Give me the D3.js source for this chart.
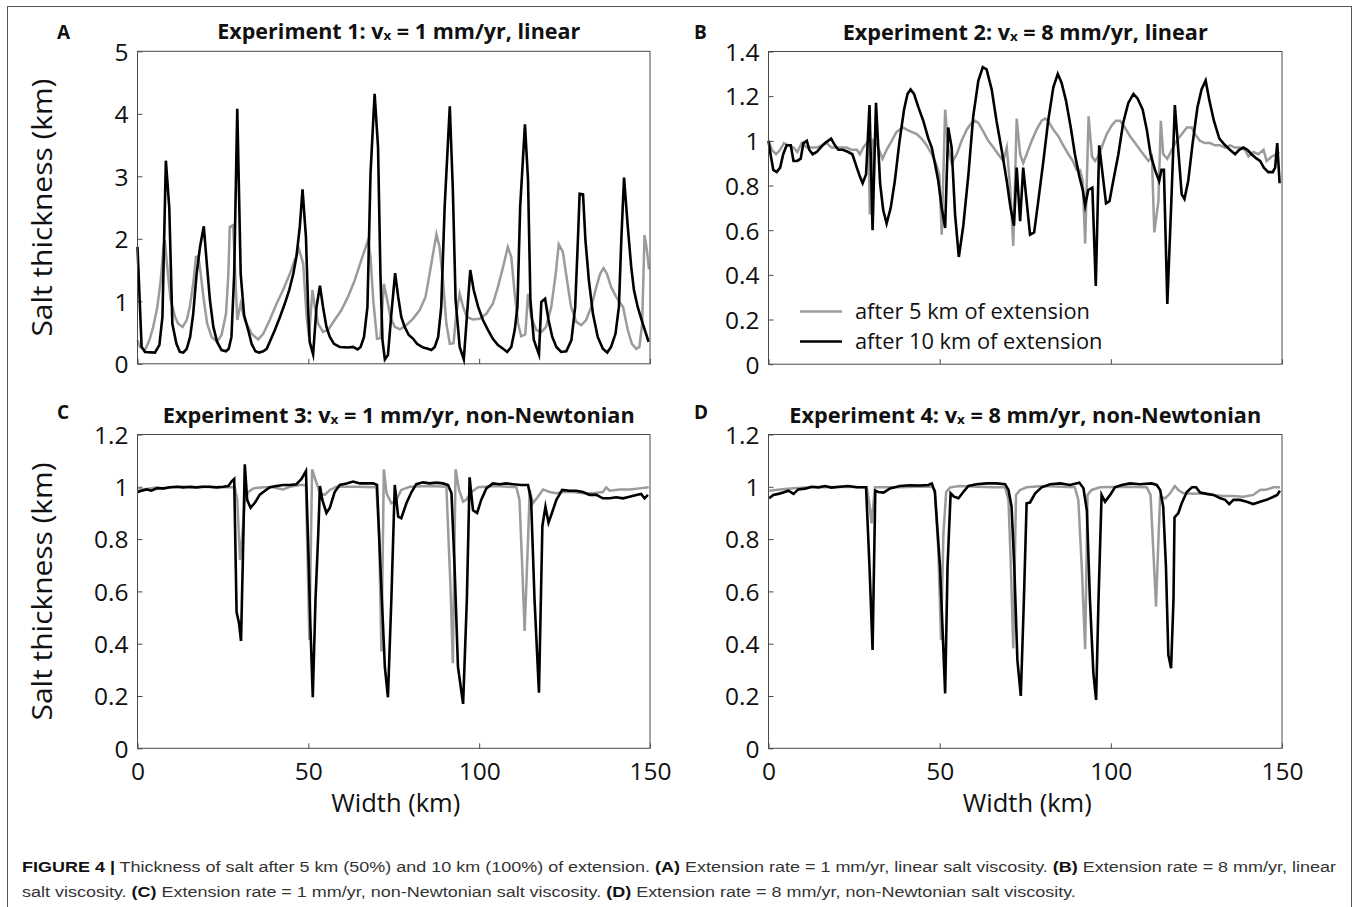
<!DOCTYPE html>
<html><head><meta charset="utf-8">
<script src="https://cdn.jsdelivr.net/npm/d3@7/dist/d3.min.js"></script>
<style>body{margin:0;background:#fff}svg{display:block}</style>
</head><body>
<svg id="fig" width="1357" height="907"></svg>
<script>
// ---------------- DATA ----------------
const xTickValues = [0, 50, 100, 150];
const yTicksLinearSlow = [0, 1, 2, 3, 4, 5];
const yTicksLinearFast = [0, 0.2, 0.4, 0.6, 0.8, 1, 1.2, 1.4];
const yTicksNonNewtonian = [0, 0.2, 0.4, 0.6, 0.8, 1, 1.2];
const panelLetters = ["A", "B", "C", "D"];
const titleExperiment = ["1", "2", "3", "4"];
const titleRate = ["1", "8", "1", "8"];
const titleRheology = ["linear", "linear", "non-Newtonian", "non-Newtonian"];
const seriesNames = ["after 5 km of extension", "after 10 km of extension"];
const xAxisLabel = "Width (km)";
const yAxisLabel = "Salt thickness (km)";

// Experiment 1 (width km, thickness km)
const exp1After5 = [[0,0.38],[0.7,0.27],[2.2,0.22],[3.5,0.38],[4.6,0.59],[5.8,0.91],[6.8,1.34],[7.6,1.87],[8.0,1.98],[8.7,1.55],[9.7,1.02],[11.0,0.75],[11.9,0.64],[13.2,0.59],[14.4,0.7],[15.3,0.91],[16.3,1.28],[17.1,1.71],[17.8,1.72],[18.5,1.44],[19.4,1.02],[20.4,0.64],[21.7,0.43],[23.3,0.35],[24.6,0.46],[25.9,0.8],[26.6,1.44],[27.0,2.19],[28.0,2.22],[28.6,1.44],[29.2,0.7],[30.2,0.96],[31.4,0.7],[33.4,0.48],[35.3,0.39],[36.8,0.48],[38.7,0.7],[40.7,0.96],[42.6,1.18],[44.6,1.44],[46.0,1.66],[47.3,1.83],[48.5,1.6],[49.5,0.75],[50.2,0.43],[51.2,1.18],[51.9,0.91],[52.9,0.64],[54.3,0.51],[55.8,0.54],[57.7,0.7],[59.7,0.86],[61.6,1.07],[63.6,1.34],[65.5,1.66],[66.5,1.82],[67.5,1.98],[68.2,1.71],[69.0,1.02],[70.1,0.4],[71.1,0.41],[72.1,1.28],[73.1,1.02],[74.0,0.75],[75.3,0.59],[76.8,0.55],[78.7,0.62],[80.6,0.72],[82.6,0.86],[84.3,1.07],[85.5,1.44],[86.5,1.76],[87.5,2.07],[88.4,1.87],[89.4,1.34],[90.4,0.64],[91.4,0.32],[92.5,0.33],[93.3,0.8],[94.3,1.12],[95.3,0.91],[96.4,0.75],[98.2,0.71],[100.1,0.72],[102.1,0.8],[104.0,0.96],[105.5,1.23],[107.0,1.55],[108.4,1.87],[109.4,1.71],[110.4,1.12],[111.4,0.64],[112.3,0.44],[113.5,0.47],[114.3,1.12],[115.2,0.75],[116.7,0.54],[118.2,0.51],[119.6,0.59],[121.1,0.91],[122.4,1.44],[123.3,1.91],[124.5,1.79],[125.7,1.34],[126.9,0.91],[128.4,0.67],[129.9,0.62],[131.3,0.7],[132.8,0.91],[134.3,1.23],[135.4,1.44],[136.4,1.53],[137.4,1.44],[138.6,1.23],[140.1,1.07],[142.1,0.91],[143.5,0.54],[144.7,0.32],[146.0,0.24],[146.9,0.27],[147.7,0.64],[148.4,2.06],[149.1,1.82],[149.7,1.51]];
const exp1After10 = [[0,1.87],[1.2,0.27],[2.2,0.19],[5.1,0.18],[6.4,0.3],[7.3,0.75],[8.3,3.25],[9.3,2.5],[10.2,0.64],[11.4,0.32],[12.4,0.19],[13.4,0.18],[14.4,0.24],[15.4,0.43],[16.3,0.8],[17.3,1.44],[18.3,1.87],[19.4,2.2],[20.2,1.66],[21.2,1.02],[22.2,0.59],[23.3,0.35],[24.6,0.22],[25.9,0.2],[26.7,0.24],[27.5,0.43],[28.3,1.44],[29.2,4.08],[30.2,1.44],[31.2,0.78],[32.4,0.54],[33.4,0.32],[34.5,0.2],[35.6,0.18],[36.8,0.2],[37.8,0.24],[38.7,0.35],[40.2,0.54],[41.7,0.75],[43.1,0.96],[44.4,1.18],[45.6,1.44],[46.5,1.71],[47.5,2.19],[48.3,2.79],[49.3,2.03],[50,0.8],[50.4,0.35],[51.4,0.15],[52.4,0.91],[53.4,1.25],[54.3,0.91],[55.3,0.59],[56.3,0.43],[57.5,0.32],[59.2,0.27],[61.6,0.26],[63.1,0.27],[64.4,0.23],[65.3,0.27],[66.3,0.43],[67.3,0.91],[68.2,3.04],[69.4,4.32],[70.4,3.47],[71.1,1.44],[71.7,0.38],[72.4,0.07],[73.3,0.14],[74.3,0.8],[75.4,1.45],[76.3,1.07],[77.2,0.75],[78.2,0.59],[79.4,0.46],[80.7,0.4],[81.8,0.32],[83.6,0.26],[85,0.24],[86,0.22],[87,0.27],[88,0.43],[88.9,0.91],[89.9,2.51],[91.4,4.12],[92.3,2.78],[93.1,1.02],[94.3,0.27],[95.5,0.07],[96.4,0.75],[97.4,1.5],[98.4,1.18],[99.7,0.91],[101.1,0.7],[102.6,0.54],[104,0.4],[105.5,0.3],[107,0.24],[108.2,0.19],[109.4,0.27],[110.4,0.54],[111.2,0.91],[112,2.51],[113.4,3.83],[114.3,2.94],[115,1.02],[116,0.38],[117.5,0.15],[118.2,0.99],[119.3,1.04],[120.3,0.7],[121.4,0.43],[122.6,0.27],[124,0.19],[125.5,0.2],[127,0.38],[128.1,0.91],[128.9,1.98],[129.4,2.72],[130.4,2.71],[131.1,1.98],[132.1,1.34],[133.3,0.8],[134.7,0.43],[136.2,0.24],[137.5,0.18],[138.6,0.27],[139.9,0.48],[140.9,0.91],[141.6,1.98],[142.4,2.98],[143.5,2.19],[144.5,1.55],[145.3,1.18],[146.4,0.91],[147.9,0.64],[149.6,0.35]];

// Experiment 2
const exp2After5 = [[0,1.0],[1.0,0.96],[2.2,0.94],[3.4,0.96],[4.5,0.99],[5.8,0.98],[7.3,0.97],[8.4,0.95],[9.7,0.99],[11.2,0.97],[12.6,0.97],[14.1,0.97],[15.5,0.98],[17.0,0.99],[18.4,0.97],[19.9,0.97],[21.4,0.97],[22.8,0.97],[24.3,0.96],[25.8,0.96],[26.7,0.94],[27.7,0.97],[28.7,0.99],[29.2,1.0],[29.6,0.67],[30.6,1.0],[31.8,0.98],[33.3,0.92],[34.5,0.96],[36.0,1.0],[37.4,1.04],[39.2,1.06],[40.4,1.05],[41.8,1.04],[43.3,1.03],[44.7,1.01],[46.2,0.98],[47.7,0.94],[48.9,0.9],[49.9,0.85],[50.6,0.58],[51.6,1.14],[52.5,0.97],[53.5,0.9],[55.0,0.94],[56.4,1.0],[57.9,1.05],[59.3,1.08],[60.3,1.09],[61.3,1.08],[62.8,1.04],[64.2,1.0],[65.7,0.97],[67.1,0.94],[68.6,0.91],[69.6,0.97],[70.6,0.79],[71.5,0.53],[72.5,1.1],[73.5,0.94],[74.4,0.9],[75.4,0.94],[76.9,1.0],[78.3,1.05],[79.8,1.09],[80.8,1.1],[81.7,1.09],[83.2,1.05],[84.7,1.02],[86.1,0.98],[87.6,0.94],[88.9,0.91],[90.0,0.87],[91.0,0.87],[91.8,0.82],[92.5,0.54],[93.5,1.11],[94.5,0.93],[95.4,0.91],[96.3,0.93],[97.3,0.97],[98.8,1.03],[100.3,1.07],[101.5,1.09],[102.7,1.09],[104.1,1.06],[105.6,1.02],[107.1,0.99],[108.5,0.96],[110.0,0.93],[111.0,0.91],[112.0,0.93],[112.7,0.59],[113.9,0.73],[114.6,1.09],[115.3,0.94],[116.5,0.92],[117.8,0.96],[119.2,1.0],[120.7,1.03],[122.2,1.06],[123.6,1.06],[124.6,1.03],[126.0,1.0],[127.5,0.99],[129.0,0.99],[130.4,0.98],[131.9,0.98],[133.4,0.97],[134.8,0.98],[136.3,0.97],[137.7,0.97],[139.2,0.96],[140.2,0.93],[141.6,0.95],[143.1,0.94],[144.6,0.96],[145.5,0.91],[147.0,0.93],[148.3,0.94],[149.2,0.95]];
const exp2After10 = [[0,1.0],[0.6,0.94],[1.4,0.87],[2.4,0.86],[3.4,0.88],[4.3,0.94],[5.3,0.98],[6.5,0.98],[7.3,0.91],[8.4,0.91],[9.4,0.92],[10.2,0.99],[11.2,1.0],[11.9,0.96],[12.9,0.94],[14.1,0.95],[15.2,0.97],[16.5,0.99],[18.3,1.01],[19.4,0.98],[20.4,0.96],[21.7,0.96],[23.3,0.95],[24.5,0.94],[25.8,0.88],[26.7,0.84],[27.5,0.81],[28.5,0.85],[29.5,1.16],[30.4,0.6],[31.4,1.17],[32.6,0.81],[33.5,0.69],[34.5,0.63],[35.7,0.7],[36.9,0.82],[38.2,0.99],[39.6,1.14],[40.6,1.21],[41.5,1.23],[42.5,1.21],[43.8,1.15],[45.2,1.09],[46.7,1.01],[47.7,0.97],[48.6,0.9],[49.6,0.82],[50.6,0.7],[51.6,0.61],[52.5,1.06],[53.5,0.97],[54.5,0.67],[55.6,0.48],[56.9,0.62],[58.4,0.85],[59.8,1.11],[61.3,1.27],[62.6,1.33],[63.7,1.32],[65.2,1.23],[66.6,1.09],[68.1,0.96],[69.6,0.82],[70.7,0.7],[71.7,0.62],[72.5,0.88],[73.5,0.64],[74.4,0.88],[75.4,0.73],[76.4,0.58],[77.6,0.59],[78.8,0.73],[80.3,0.91],[81.7,1.09],[83.2,1.24],[84.5,1.3],[85.6,1.26],[86.9,1.18],[88.3,1.06],[89.5,0.94],[90.8,0.84],[91.8,0.78],[92.5,0.71],[93.4,0.78],[94.6,0.79],[95.6,0.35],[96.6,0.98],[97.6,0.85],[98.6,0.72],[99.6,0.73],[100.7,0.82],[102.2,0.94],[103.6,1.08],[105.1,1.17],[106.6,1.21],[107.8,1.19],[109.3,1.14],[110.5,1.05],[111.6,0.94],[112.9,0.87],[114.1,0.82],[114.8,0.87],[115.5,0.87],[116.5,0.27],[117.8,0.78],[118.7,1.16],[119.7,0.96],[120.7,0.76],[121.5,0.74],[122.6,0.82],[123.9,0.99],[125.3,1.15],[126.5,1.23],[127.7,1.27],[128.8,1.18],[130.1,1.09],[131.7,1.01],[133.4,0.98],[134.8,0.96],[136.3,0.94],[137.5,0.96],[138.7,0.97],[139.9,0.96],[141.1,0.94],[142.6,0.92],[143.6,0.91],[144.7,0.88],[146.0,0.86],[147.3,0.86],[148.0,0.88],[148.6,0.99],[149.3,0.81]];

// Experiment 3
const exp3After5 = [[0,0.994],[1.7,0.99],[3.7,0.994],[5.6,0.998],[7.6,0.994],[10,0.998],[13,1.0],[16,0.996],[19,1.0],[22,0.998],[26.1,0.998],[28.5,0.998],[29.2,0.95],[30.0,0.72],[30.7,0.82],[31.4,0.95],[32.4,0.98],[33.9,0.994],[36.8,0.998],[39.7,0.998],[42.6,0.99],[44.6,1.0],[47.5,1.007],[49.3,1.007],[50.3,0.414],[51.1,1.067],[52.1,1.026],[53.4,0.975],[54.8,0.969],[56.3,0.988],[58.2,1.0],[64.1,1.0],[69.9,0.998],[70.7,0.82],[71.4,0.37],[72.1,1.067],[72.9,0.975],[74.3,0.937],[75.8,0.95],[77.2,0.988],[79.7,1.0],[85.5,1.003],[90.4,1.0],[91.6,0.62],[92.3,0.325],[93.1,1.067],[94.1,0.988],[95.3,0.943],[96.2,0.95],[97.7,0.98],[99.7,0.998],[105.0,1.003],[110.9,0.998],[111.8,0.95],[112.6,0.695],[113.3,0.449],[114.3,0.797],[114.8,0.99],[115.7,0.937],[117.2,0.962],[118.7,0.99],[120.6,0.98],[122.6,0.975],[124.5,0.98],[127.4,0.98],[130.4,0.975],[133.3,0.975],[136.2,0.98],[137.2,0.998],[138.2,0.985],[141.1,0.99],[144.0,0.99],[146.9,0.994],[149.6,0.998]];
const exp3After10 = [[0,0.98],[1.2,0.985],[2.7,0.99],[4.1,0.985],[5.6,0.994],[7.6,0.994],[9.5,0.998],[11.5,1.0],[13.4,0.998],[15.4,1.0],[17.3,0.998],[19.2,1.0],[21.2,1.0],[23.1,0.998],[25.1,1.0],[26.6,1.003],[27.5,1.02],[28.3,1.03],[29.0,0.52],[29.7,0.48],[30.3,0.41],[31.0,0.82],[31.4,1.086],[32.1,0.95],[33.1,0.92],[34.4,0.94],[35.8,0.97],[37.3,0.985],[38.7,0.998],[40.7,1.003],[42.6,1.007],[44.6,1.007],[46.5,1.01],[48.0,1.03],[49.3,1.06],[50.0,0.76],[50.6,0.47],[51.3,0.195],[52.1,0.57],[52.9,0.82],[53.4,1.003],[54.1,0.95],[55.3,0.9],[56.3,0.92],[57.7,0.98],[59.2,1.007],[61.2,1.013],[63.1,1.02],[65.1,1.013],[67.0,1.013],[69.0,1.013],[70.1,1.007],[71.1,0.695],[72.4,0.31],[73.3,0.195],[74.3,0.57],[75.3,1.007],[76.3,0.886],[77.2,0.88],[78.7,0.937],[80.2,0.98],[81.6,1.01],[83.6,1.017],[85.5,1.013],[87.5,1.016],[89.4,1.013],[90.9,1.007],[91.9,0.975],[92.8,0.695],[93.8,0.31],[95.3,0.17],[96.4,0.57],[97.2,1.036],[98.2,0.91],[99.4,0.9],[100.6,0.95],[102.1,0.994],[104.0,1.013],[106.0,1.01],[107.9,1.013],[109.9,1.01],[112.3,1.007],[114.3,1.007],[115.2,0.95],[116.2,0.57],[117.5,0.213],[118.5,0.85],[119.4,0.924],[120.3,0.863],[121.3,0.9],[122.6,0.95],[124.3,0.988],[126.5,0.985],[128.4,0.985],[130.4,0.98],[132.3,0.969],[134.3,0.969],[136.2,0.956],[138.2,0.956],[140.1,0.96],[142.1,0.956],[144.0,0.962],[146.0,0.969],[147.4,0.973],[148.4,0.956],[149.4,0.969]];

// Experiment 4
const exp4After5 = [[0.2,0.985],[3.4,0.99],[7.3,0.994],[12.1,0.998],[17.0,0.998],[21.9,1.0],[26.7,0.998],[28.7,0.998],[29.5,0.93],[30.1,0.86],[31.1,0.998],[38.4,0.998],[43.3,1.0],[47.7,1.0],[48.6,0.988],[49.6,0.758],[50.4,0.414],[51.1,0.822],[51.9,0.98],[53.1,0.998],[56.0,1.003],[60.8,1.0],[65.7,0.998],[69.1,0.998],[70.1,0.95],[70.8,0.695],[71.5,0.382],[72.3,0.969],[73.5,0.988],[75.4,0.998],[80.3,1.003],[85.2,1.0],[89.5,0.998],[90.5,0.95],[91.5,0.695],[92.5,0.379],[93.2,0.969],[94.4,0.988],[96.8,0.998],[104.6,1.0],[110.5,0.998],[111.6,0.969],[112.4,0.758],[113.2,0.542],[113.9,0.797],[114.4,0.962],[115.9,0.956],[117.3,0.975],[118.7,1.003],[119.7,0.988],[121.2,0.975],[124.1,0.973],[127.0,0.975],[130.0,0.969],[132.9,0.965],[135.8,0.965],[138.7,0.962],[141.6,0.969],[143.6,0.988],[145.5,0.99],[147.5,0.998],[149.4,0.998]];
const exp4After10 = [[0.2,0.956],[1.4,0.969],[2.9,0.973],[4.3,0.978],[5.8,0.985],[7.3,0.973],[8.7,0.99],[10.7,0.993],[12.6,1.0],[14.6,0.998],[16.5,1.003],[18.4,0.997],[20.9,1.0],[23.3,1.003],[25.8,0.998],[28.5,0.998],[29.5,0.695],[30.4,0.376],[31.2,0.985],[32.1,0.98],[33.6,0.978],[35.5,0.994],[38.4,1.003],[41.3,1.006],[44.3,1.005],[46.7,1.007],[47.7,1.013],[48.6,0.98],[50.1,0.695],[51.6,0.21],[52.3,0.695],[53.2,0.975],[54.2,0.962],[55.5,0.956],[56.9,0.98],[58.4,1.003],[60.8,1.01],[63.7,1.013],[66.6,1.013],[69.1,1.01],[70.1,0.988],[71.0,0.924],[71.8,0.695],[72.7,0.338],[73.7,0.2],[74.6,0.567],[75.4,0.937],[76.4,0.94],[77.9,0.975],[79.8,0.998],[82.3,1.01],[85.2,1.013],[88.1,1.007],[90.8,1.016],[92.0,0.994],[93.0,0.91],[93.9,0.567],[94.9,0.287],[95.7,0.185],[96.4,0.567],[97.3,0.969],[98.3,0.943],[99.8,0.969],[101.2,0.998],[103.2,1.007],[105.6,1.013],[108.5,1.01],[111.9,1.013],[113.4,1.007],[114.4,0.988],[115.3,0.924],[116.1,0.695],[116.8,0.357],[117.6,0.306],[118.3,0.567],[118.6,0.883],[119.7,0.899],[120.7,0.937],[122.2,0.98],[123.7,0.998],[124.9,0.998],[126.1,0.978],[128.0,0.973],[130.0,0.969],[132.0,0.956],[133.4,0.95],[134.6,0.934],[135.8,0.95],[137.7,0.95],[139.7,0.943],[141.6,0.934],[143.6,0.943],[145.5,0.95],[147.5,0.962],[148.6,0.969],[149.4,0.985]];

const captionLine1 = [["FIGURE 4 |", true], [" Thickness of salt after 5 km (50%) and 10 km (100%) of extension. ", false], ["(A)", true], [" Extension rate = 1 mm/yr, linear salt viscosity. ", false], ["(B)", true], [" Extension rate = 8 mm/yr, linear", false]];
const captionLine2 = [["salt viscosity. ", false], ["(C)", true], [" Extension rate = 1 mm/yr, non-Newtonian salt viscosity. ", false], ["(D)", true], [" Extension rate = 8 mm/yr, non-Newtonian salt viscosity.", false]];

// ---------------- LAYOUT ----------------
const svg = d3.select("#fig");
const FONT = "'Open Sans', 'Noto Sans', sans-serif";
const GREY = "#9b9b9b";
const AXC = "#4a4a4a";

svg.append("rect").attr("x", 7.5).attr("y", 6.5).attr("width", 1344).attr("height", 960)
  .attr("fill", "none").attr("stroke", "#555").attr("stroke-width", 1);

const panels = [
  {s5: exp1After5, s10: exp1After10, ticks: yTicksLinearSlow, ymax: 5, box: [137.5, 650, 51.3, 363.8], lx: 57, ly: 32},
  {s5: exp2After5, s10: exp2After10, ticks: yTicksLinearFast, ymax: 1.4, box: [768.5, 1282, 51.5, 364.2], lx: 694, ly: 32},
  {s5: exp3After5, s10: exp3After10, ticks: yTicksNonNewtonian, ymax: 1.2, box: [137.5, 650, 434.5, 748.3], lx: 57, ly: 412},
  {s5: exp4After5, s10: exp4After10, ticks: yTicksNonNewtonian, ymax: 1.2, box: [768.5, 1282, 434.5, 748.3], lx: 694, ly: 412}
];
const titleWidths = [363, 365, 472, 472];

panels.forEach((p, i) => {
  const [x0, x1, y0, y1] = p.box;
  const x = d3.scaleLinear().domain([0, 150]).range([x0, x1]);
  const y = d3.scaleLinear().domain([0, p.ymax]).range([y1, y0]);
  const g = svg.append("g");

  // axes
  const xa = g.append("g").attr("transform", `translate(0,${y1})`)
    .call(d3.axisBottom(x).tickValues(xTickValues).tickSizeInner(-5).tickSizeOuter(0).tickPadding(14)
      .tickFormat(d => i >= 2 ? String(d) : ""));
  const ya = g.append("g").attr("transform", `translate(${x0},0)`)
    .call(d3.axisLeft(y).tickValues(p.ticks).tickSizeInner(-5).tickSizeOuter(0).tickPadding(9)
      .tickFormat(d => String(+d.toFixed(1))));
  [xa, ya].forEach(a => {
    a.select(".domain").remove();
    a.selectAll(".tick line").attr("stroke", AXC).attr("stroke-width", 1);
    a.selectAll(".tick text").attr("font-family", FONT).attr("font-size", 24.5).attr("fill", "#111");
  });
  ya.selectAll(".tick text").attr("dy", "0.36em");

  // data lines
  const line = d3.line().x(d => x(d[0])).y(d => y(d[1]));
  g.append("path").datum(p.s5).attr("d", line).attr("fill", "none")
    .attr("stroke", GREY).attr("stroke-width", 2.5).attr("stroke-linejoin", "miter").attr("stroke-miterlimit", 6);
  g.append("path").datum(p.s10).attr("d", line).attr("fill", "none")
    .attr("stroke", "#000").attr("stroke-width", 2.6).attr("stroke-linejoin", "miter").attr("stroke-miterlimit", 6);

  // box
  g.append("rect").attr("x", x0).attr("y", y0).attr("width", x1 - x0).attr("height", y1 - y0)
    .attr("fill", "none").attr("stroke", AXC).attr("stroke-width", 1);

  // title
  const t = g.append("text").attr("x", (x0 + x1) / 2 + (i % 2 ? 0 : 5)).attr("y", y0 - 12)
    .attr("text-anchor", "middle").attr("font-family", FONT).attr("font-weight", 700)
    .attr("font-size", 21).attr("fill", "#111");
  t.append("tspan").text(`Experiment ${titleExperiment[i]}: v`);
  t.append("tspan").attr("font-size", 13).attr("dy", 1).text("x");
  t.append("tspan").attr("dy", -1).text(` = ${titleRate[i]} mm/yr, ${titleRheology[i]}`);
  t.attr("textLength", titleWidths[i]).attr("lengthAdjust", "spacingAndGlyphs");

  // panel letter
  g.append("text").attr("x", p.lx).attr("y", p.ly + 7).attr("font-family", FONT).attr("font-weight", 700)
    .attr("font-size", 19).attr("fill", "#111").text(panelLetters[i]);

  // axis labels
  if (i % 2 === 0) {
    g.append("text").attr("transform", `translate(52,${(y0 + y1) / 2}) rotate(-90)`)
      .attr("text-anchor", "middle").attr("font-family", FONT).attr("font-size", 27).attr("fill", "#111")
      .attr("textLength", 258).attr("lengthAdjust", "spacingAndGlyphs")
      .text(yAxisLabel);
  }
  if (i >= 2) {
    g.append("text").attr("x", (x0 + x1) / 2 + 2).attr("y", y1 + 64).attr("text-anchor", "middle")
      .attr("font-family", FONT).attr("font-size", 25.5).attr("fill", "#111").text(xAxisLabel);
  }

  // legend
  if (i === 1) {
    const lg = g.append("g");
    [[GREY, 311.5], ["#000", 341.5]].forEach(([c, yy], k) => {
      lg.append("line").attr("x1", 800).attr("x2", 842).attr("y1", yy).attr("y2", yy)
        .attr("stroke", c).attr("stroke-width", 2.6);
      lg.append("text").attr("x", 855).attr("y", yy).attr("dy", "0.35em")
        .attr("font-family", FONT).attr("font-size", 21.8).attr("fill", "#111").text(seriesNames[k]);
    });
  }
});

// caption
const CAPFONT = "'Liberation Sans Narrow', 'Liberation Sans', Arial, sans-serif";
function caption(parts, yy) {
  const t = svg.append("text").attr("x", 22).attr("y", yy).attr("font-family", CAPFONT)
    .attr("font-size", 15.5).attr("fill", "#333");
  parts.forEach(([s, b]) => t.append("tspan").attr("font-weight", b ? 700 : 400)
    .attr("fill", b ? "#111" : "#333").text(s));
  return t;
}
const c1 = caption(captionLine1, 872);
const c2 = caption(captionLine2, 897);
const n1 = c1.node().getComputedTextLength();
const n2 = c2.node().getComputedTextLength();
const k = 1314 / n1;
c1.attr("textLength", 1314).attr("lengthAdjust", "spacingAndGlyphs");
c2.attr("textLength", n2 * k).attr("lengthAdjust", "spacingAndGlyphs");
</script>
</body></html>
